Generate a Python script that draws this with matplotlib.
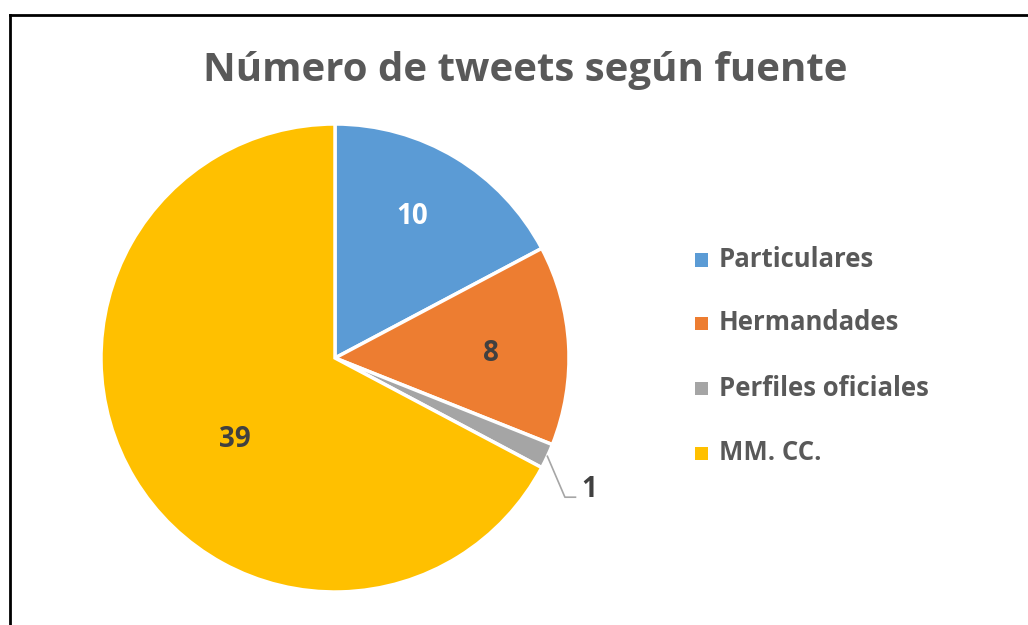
import numpy as np
import matplotlib
matplotlib.use("Agg")
import matplotlib.pyplot as plt
from matplotlib.lines import Line2D

categories = ["Particulares", "Hermandades", "Perfiles oficiales", "MM. CC."]
values = [10, 8, 1, 39]
colors = ["#5B9BD5", "#ED7D31", "#A5A5A5", "#FFC000"]
label_colors = ["white", "#404040", "#404040", "#404040"]

plt.rcParams['font.family'] = ['Open Sans', 'DejaVu Sans']

W, H = 1028, 625
fig = plt.figure(figsize=(W / 100, H / 100), dpi=100)

# chart border (left and top visible)
fig.add_artist(Line2D([9.5 / W, 9.5 / W], [0, 1 - 15 / H], color="black", lw=2, transform=fig.transFigure))
fig.add_artist(Line2D([9.5 / W, 1], [1 - 15 / H, 1 - 15 / H], color="black", lw=2, transform=fig.transFigure))

fig.text(525 / W, 1 - 70 / H, "Número de tweets según fuente", ha="center", va="center",
         fontsize=29, fontweight="bold", color="#595959")

cx, cy, R = 335, 358, 234
ax = fig.add_axes([(cx - R) / W, 1 - (cy + R) / H, 2 * R / W, 2 * R / H])
wedges, _ = ax.pie(values, colors=colors, startangle=90, counterclock=False,
                   wedgeprops=dict(edgecolor="white", linewidth=2.5))
ax.set_xlim(-1, 1)
ax.set_ylim(-1, 1)
ax.set_aspect("equal")
ax.axis("off")

rfac = [0.69, 0.665, None, 0.55]
dang = [2.5, -1.5, 0, 8]
for i, w in enumerate(wedges):
    mid = np.deg2rad((w.theta1 + w.theta2) / 2 + dang[i])
    if rfac[i] is not None:
        ax.text(rfac[i] * np.cos(mid), rfac[i] * np.sin(mid), str(values[i]), ha="center", va="center",
                fontsize=20, fontweight="bold", color=label_colors[i])
    else:
        x0, y0 = np.cos(mid), np.sin(mid)
        x1, y1 = x0 + 0.075, y0 - 0.175
        x2 = x1 + 0.045
        ax.plot([x0, x1, x2], [y0, y1, y1], color="#A6A6A6", lw=1.2, clip_on=False)
        ax.text(x2 + 0.025, y1 - 0.03, str(values[i]), ha="left", va="bottom",
                fontsize=20, fontweight="bold", color="#404040")

# legend
ys = [260, 323, 388, 453]
for i, c in enumerate(categories):
    sq = 13
    fig.patches.append(plt.Rectangle((695 / W, 1 - (ys[i] + sq / 2) / H), sq / W, sq / H,
                                     facecolor=colors[i], edgecolor="none", transform=fig.transFigure))
    fig.text(719 / W, 1 - ys[i] / H, c, ha="left", va="center", fontsize=18.5,
             fontweight="bold", color="#595959")

fig.savefig("out.png", dpi=100, facecolor="white")
